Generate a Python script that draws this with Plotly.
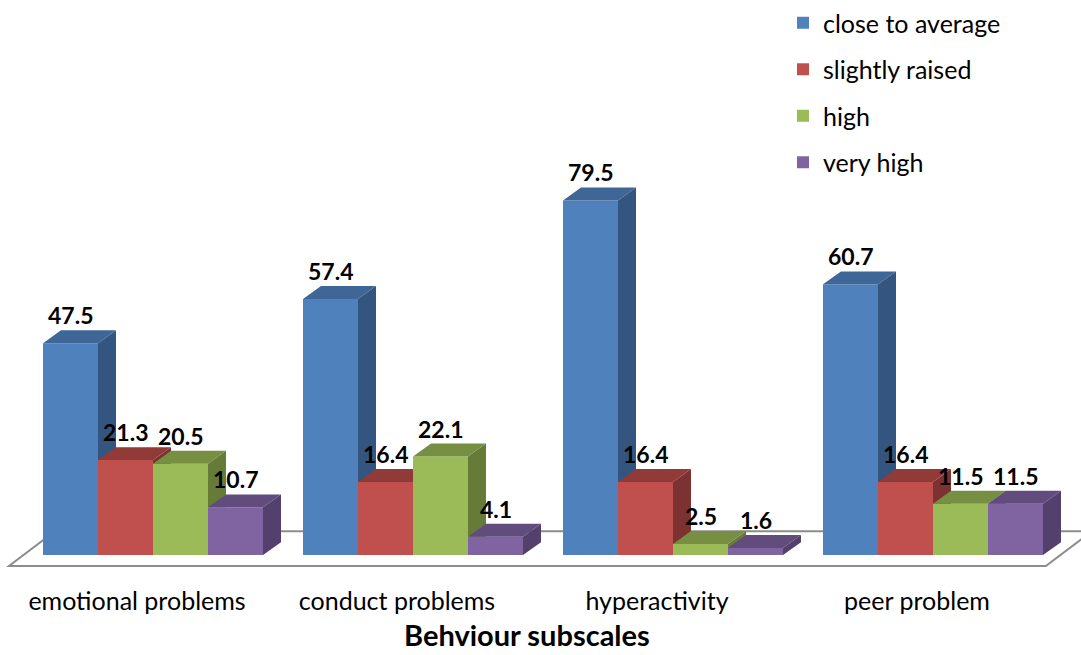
import plotly.graph_objects as go

# --- data -------------------------------------------------------------------
categories = ["emotional problems", "conduct problems", "hyperactivity", "peer problem"]
series_names = ["close to average", "slightly raised", "high", "very high"]
close_to_average = [47.5, 57.4, 79.5, 60.7]
slightly_raised = [21.3, 16.4, 16.4, 16.4]
high = [20.5, 22.1, 2.5, 11.5]
very_high = [10.7, 4.1, 1.6, 11.5]
series_values = [close_to_average, slightly_raised, high, very_high]

# --- styling ----------------------------------------------------------------
front_colors = ["#4F81BD", "#C0504D", "#9BBB59", "#8064A2"]
top_colors = ["#3E6697", "#913B39", "#768F42", "#624C7D"]
side_colors = ["#33557F", "#7B3230", "#657B37", "#54406C"]
FONT = "Lato"

W, H = 1081, 655
GROUP_PX = 260.0          # pixel distance between category centres
PX_PER_UNIT = 4.484       # vertical pixels per percent
BAR_W = 55.0 / GROUP_PX   # bar width in category units
DX = 18.0 / GROUP_PX      # depth offset (x) of the 3-D faces
DY = 13.0 / PX_PER_UNIT   # depth offset (y) of the 3-D faces
MARGIN_B = 85
PLOT_H = H - MARGIN_B
BASE_PX = 555.0           # pixel row of the value 0
X_RANGE = [-153.0 / GROUP_PX, (W - 153.0) / GROUP_PX]
Y_RANGE = [-(PLOT_H - BASE_PX) / PX_PER_UNIT, BASE_PX / PX_PER_UNIT]
LABEL_SHIFT = -16.0 / GROUP_PX


def clip(poly, a, b, c):
    """Keep the part of a polygon where a*x + b*y + c >= 0."""
    out = []
    n = len(poly)
    for i in range(n):
        p, q = poly[i], poly[(i + 1) % n]
        fp = a * p[0] + b * p[1] + c
        fq = a * q[0] + b * q[1] + c
        if fp >= 0:
            out.append(p)
        if (fp >= 0) != (fq >= 0):
            t = fp / (fp - fq)
            out.append((p[0] + t * (q[0] - p[0]), p[1] + t * (q[1] - p[1])))
    return out


def add_poly(xs, ys, poly):
    if len(poly) < 3:
        return
    xs.extend([p[0] for p in poly] + [poly[0][0], None])
    ys.extend([p[1] for p in poly] + [poly[0][1], None])


fig = go.Figure()

n_series = len(series_values)
offsets = [(k - n_series / 2) * BAR_W for k in range(n_series)]

# front faces of the bars
for k, (name, vals) in enumerate(zip(series_names, series_values)):
    fig.add_trace(go.Bar(
        x=[i + offsets[k] + BAR_W / 2 for i in range(len(categories))],
        y=vals,
        width=BAR_W,
        name=name,
        marker=dict(color=front_colors[k], line=dict(width=0)),
        legendgroup=name,
        hoverinfo="skip",
    ))

# side and top faces, trimmed where the next bar's front face hides them
for k, vals in enumerate(series_values):
    sx, sy, tx, ty = [], [], [], []
    for i, v in enumerate(vals):
        xl = i + offsets[k]
        xr = xl + BAR_W
        v_next = series_values[k + 1][i] if k + 1 < n_series else None
        side = [(xr, 0), (xr + DX, DY), (xr + DX, v + DY), (xr, v)]
        top = [(xl, v), (xr, v), (xr + DX, v + DY), (xl + DX, v + DY)]
        if v_next is None:
            add_poly(sx, sy, side)
            add_poly(tx, ty, top)
        else:
            add_poly(sx, sy, clip(side, 0, 1, -v_next))
            add_poly(tx, ty, clip(top, -1, 0, xr))
            add_poly(tx, ty, clip(clip(top, 1, 0, -xr), 0, 1, -v_next))
    fig.add_trace(go.Scatter(x=sx, y=sy, mode="lines", fill="toself",
                             fillcolor=side_colors[k], line=dict(width=0),
                             showlegend=False, hoverinfo="skip"))
    fig.add_trace(go.Scatter(x=tx, y=ty, mode="lines", fill="toself",
                             fillcolor=top_colors[k], line=dict(width=0),
                             showlegend=False, hoverinfo="skip"))

# value labels above each bar
for k, vals in enumerate(series_values):
    for i, v in enumerate(vals):
        fig.add_annotation(
            x=i + offsets[k] + BAR_W / 2, y=v, yshift=28,
            text=f"{v}", showarrow=False, xanchor="center", yanchor="middle",
            font=dict(family=FONT, size=23, color="#000000", weight="bold"),
        )

# floor of the 3-D plot area
n_cat = len(categories)
fl_front_y = -11.0 / PX_PER_UNIT
fl_back_y = 24.0 / PX_PER_UNIT
fl_x0 = -0.5 - 0.054
fl_x1 = n_cat - 0.5 - 0.066
fl_dx = 46.0 / GROUP_PX
floor_path = (f"M {fl_x0},{fl_front_y} L {fl_x1},{fl_front_y} "
              f"L {fl_x1 + fl_dx},{fl_back_y} L {fl_x0 + fl_dx},{fl_back_y} Z")
fig.add_shape(type="path", path=floor_path, xref="x", yref="y", layer="below",
              fillcolor="#FFFFFF", line=dict(color="#8C8C8C", width=2))

# axis title
fig.add_annotation(
    x=527.0 / W, y=-(635 - PLOT_H) / PLOT_H,
    xref="paper", yref="paper", text="Behviour subscales", showarrow=False,
    xanchor="center", yanchor="middle",
    font=dict(family=FONT, size=29, color="#000000", weight="bold"),
)

fig.update_layout(
    width=W, height=H,
    margin=dict(l=0, r=0, t=0, b=MARGIN_B),
    paper_bgcolor="#FFFFFF", plot_bgcolor="#FFFFFF",
    barmode="overlay",
    showlegend=True,
    legend=dict(
        x=783.0 / W, y=1.0 + 3.0 / PLOT_H, xanchor="left", yanchor="top",
        font=dict(family=FONT, size=25, color="#000000"),
        traceorder="grouped", tracegroupgap=11,
        bgcolor="rgba(0,0,0,0)", itemclick=False, itemdoubleclick=False,
    ),
    xaxis=dict(
        range=X_RANGE, showgrid=False, zeroline=False, showline=False,
        ticks="", tickmode="array",
        tickvals=[i + LABEL_SHIFT for i in range(n_cat)], ticktext=categories,
        tickfont=dict(family=FONT, size=25, color="#000000"),
        ticklabelstandoff=14, fixedrange=True,
    ),
    yaxis=dict(range=Y_RANGE, visible=False, fixedrange=True),
)

fig.write_html("out.html")
